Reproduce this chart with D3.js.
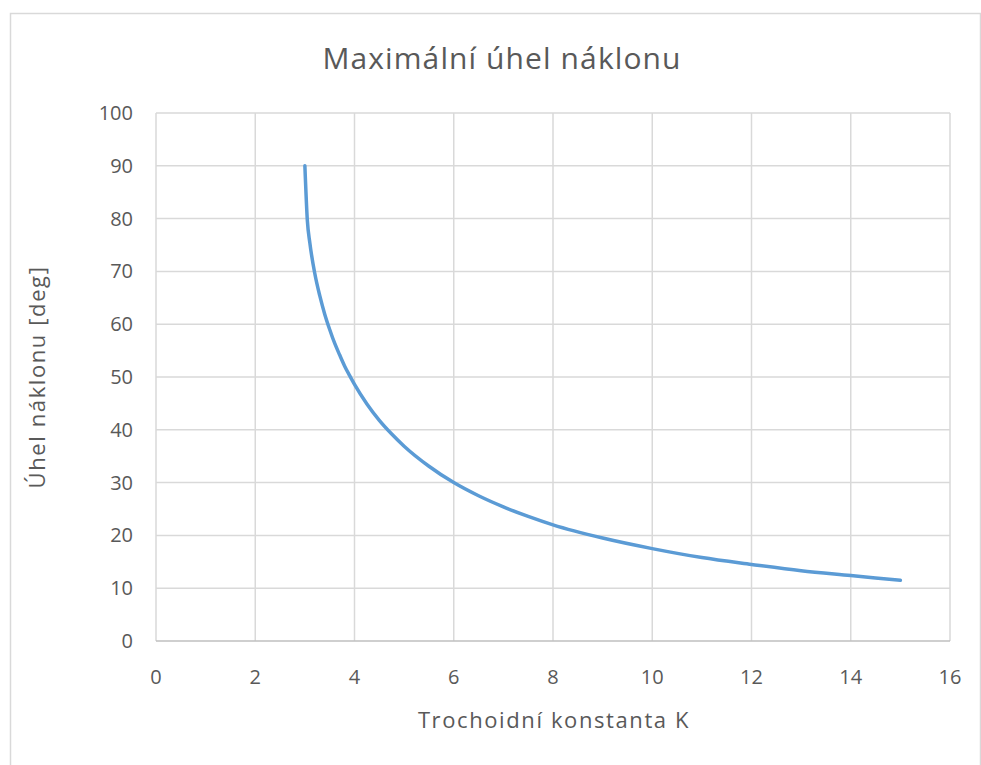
<!DOCTYPE html>
<html><head><meta charset="utf-8">
<script src="https://cdn.jsdelivr.net/npm/d3@7"></script>
<style>body{margin:0;background:#fff;}svg{display:block;font-family:"Open Sans",sans-serif;}</style>
</head><body>
<script>
const kValues = [3, 3.05, 3.1, 3.2, 3.3, 3.4, 3.5, 3.6, 3.7, 3.8, 3.9, 4, 4.25, 4.5, 4.75, 5, 5.5, 6, 6.5, 7, 7.5, 8, 9, 10, 11, 12, 13, 14, 15];
const angleValues = [90, 79.6, 75.4, 69.6, 65.4, 61.9, 59.0, 56.4, 54.2, 52.1, 50.3, 48.6, 44.9, 41.8, 39.2, 36.9, 33.1, 30.0, 27.5, 25.4, 23.6, 22.0, 19.5, 17.5, 15.8, 14.5, 13.3, 12.4, 11.5];
const xTicks = [0, 2, 4, 6, 8, 10, 12, 14, 16];
const yTicks = [0, 10, 20, 30, 40, 50, 60, 70, 80, 90, 100];
const title = "Maximální úhel náklonu";
const xTitle = "Trochoidní konstanta K";
const yTitle = "Úhel náklonu [deg]";

const W = 981, H = 765;
const svg = d3.select("body").append("svg").attr("width", W).attr("height", H);
const txt = "#595959";

// chart border
svg.append("path").attr("d", `M10.5,${H} V13.5 H980.5 V${H}`).attr("fill", "none").attr("stroke", "#d9d9d9").attr("stroke-width", 1.5);

const x = d3.scaleLinear().domain([0, 16]).range([156, 950]);
const y = d3.scaleLinear().domain([0, 100]).range([641, 113]);

const g = svg.append("g");
// grid
g.selectAll(".hg").data(yTicks.filter(d => d > 0)).join("line")
  .attr("x1", x(0)).attr("x2", x(16)).attr("y1", d => y(d)).attr("y2", d => y(d))
  .attr("stroke", "#d9d9d9").attr("stroke-width", 1.5);
g.selectAll(".vg").data(xTicks).join("line")
  .attr("x1", d => x(d)).attr("x2", d => x(d)).attr("y1", y(100)).attr("y2", y(0))
  .attr("stroke", "#d9d9d9").attr("stroke-width", 1.5);
// x axis line
g.append("line").attr("x1", x(0)).attr("x2", x(16)).attr("y1", y(0)).attr("y2", y(0))
  .attr("stroke", "#bfbfbf").attr("stroke-width", 1.5);

// y tick labels
g.selectAll(".yl").data(yTicks).join("text")
  .attr("x", 133).attr("y", d => y(d)).attr("dy", "0.35em").attr("text-anchor", "end")
  .attr("fill", txt).attr("font-size", 20).text(d => d);
// x tick labels
g.selectAll(".xl").data(xTicks).join("text")
  .attr("x", d => x(d)).attr("y", 677).attr("dy", "0.35em").attr("text-anchor", "middle")
  .attr("fill", txt).attr("font-size", 20).text(d => d);

// line
const data = kValues.map((k, i) => ({k, a: angleValues[i]}));
g.append("path").datum(data)
  .attr("d", d3.line().x(d => x(d.k)).y(d => y(d.a)).curve(d3.curveMonotoneX))
  .attr("fill", "none").attr("stroke", "#5B9BD5").attr("stroke-width", 3.5).attr("stroke-linecap", "round");

// titles
svg.append("text").attr("x", 502).attr("y", 58).attr("dy", "0.35em").attr("text-anchor", "middle")
  .attr("fill", txt).attr("font-size", 30).attr("letter-spacing", 1.1).text(title);
svg.append("text").attr("x", 554).attr("y", 720).attr("dy", "0.35em").attr("text-anchor", "middle")
  .attr("fill", txt).attr("font-size", 22).attr("letter-spacing", 1.6).text(xTitle);
svg.append("text").attr("transform", "translate(37,377) rotate(-90)").attr("dy", "0.35em").attr("text-anchor", "middle")
  .attr("fill", txt).attr("font-size", 22).attr("letter-spacing", 1.6).text(yTitle);
</script>
</body></html>
